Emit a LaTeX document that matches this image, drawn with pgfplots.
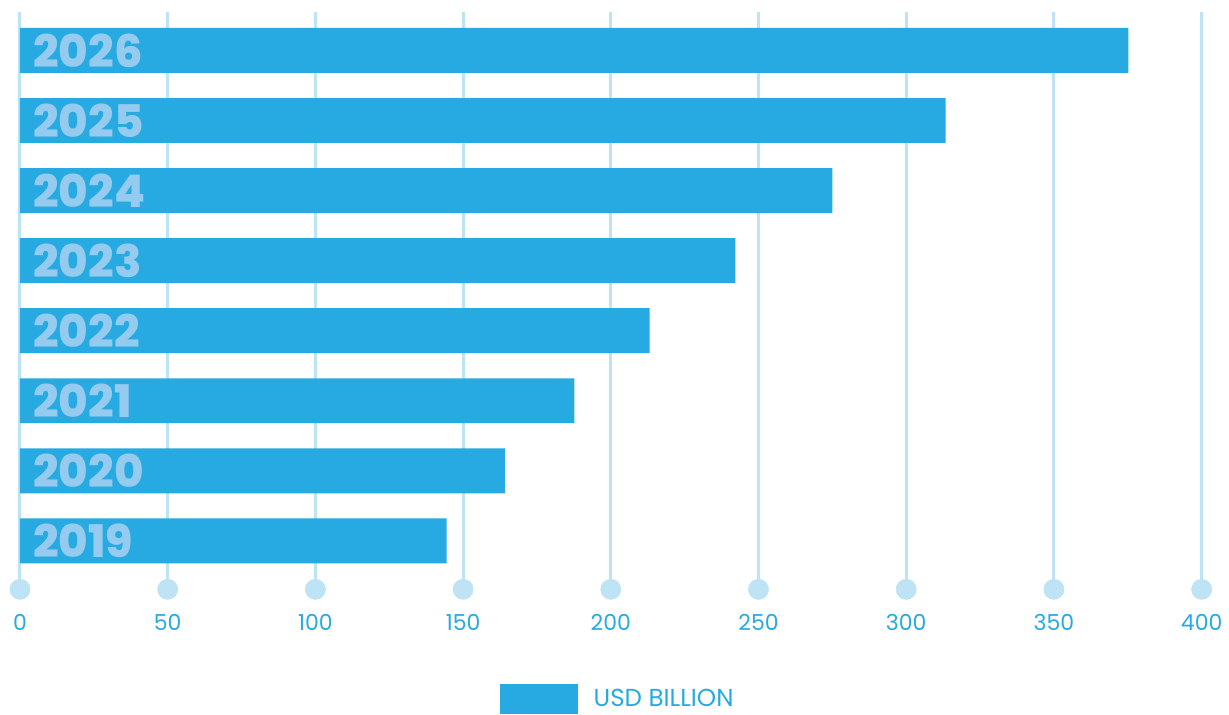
\documentclass[border=0pt]{standalone}
\usepackage{pgfplots}
\pgfplotsset{compat=1.18}
\usepackage{fontspec}
\setmainfont{Poppins}
\newfontfamily\yearfont{Poppins ExtraBold}
\definecolor{barblue}{HTML}{27AAE1}
\definecolor{gridblue}{HTML}{BEE3F5}
\definecolor{yearblue}{HTML}{95CBEE}
\begin{document}
\begin{tikzpicture}
\begin{axis}[
  scale only axis, width=591.5pt, height=289pt,
  xmin=0, xmax=400, ymin=-0.691, ymax=7.549,
  bar width=22.5pt,
  axis line style={draw=none},
  major tick length=0pt,
  xtick={0,50,...,400},
  xmajorgrids, grid style={gridblue, line width=1.5pt},
  ytick=\empty,
  xticklabel style={anchor=center, yshift=-16.5pt, font=\fontsize{11}{11}\selectfont, text=barblue},
  /pgf/number format/assume math mode=true,
  clip=false,
  legend style={at={(0.4057,-0.1903)}, anchor=west, draw=none, fill=none, inner sep=0pt, font=\fontsize{12.3}{12.3}\selectfont, text=barblue},
  legend image code/.code={\fill[barblue] (0pt,-7.5pt) rectangle (39pt,7.5pt); \path (45pt,0pt);},
]
\addplot[only marks, mark=*, mark size=5pt, color=gridblue, forget plot] coordinates {
(0,-0.691) (50,-0.691) (100,-0.691) (150,-0.691) (200,-0.691) (250,-0.691) (300,-0.691) (350,-0.691) (400,-0.691)};
\addplot[xbar, fill=barblue, draw=none] coordinates {
(144.4,0) (164.1,1) (187.7,2) (213.1,3) (242.2,4) (275.0,5) (313.3,6) (375.2,7)};
\addlegendentry{USD BILLION}
\addplot[only marks, mark=none, draw=none, forget plot,
  point meta=explicit symbolic, nodes near coords,
  nodes near coords style={anchor=west, inner sep=0pt, xshift=6.5pt, font=\yearfont\fontsize{22.5}{22.5}\selectfont, text=yearblue}]
coordinates {(0,0)[2019] (0,1)[2020] (0,2)[2021] (0,3)[2022] (0,4)[2023] (0,5)[2024] (0,6)[2025] (0,7)[2026]};
\end{axis}
\useasboundingbox (-10pt,-62.5pt) rectangle (604.5pt,295pt);
\end{tikzpicture}
\end{document}
